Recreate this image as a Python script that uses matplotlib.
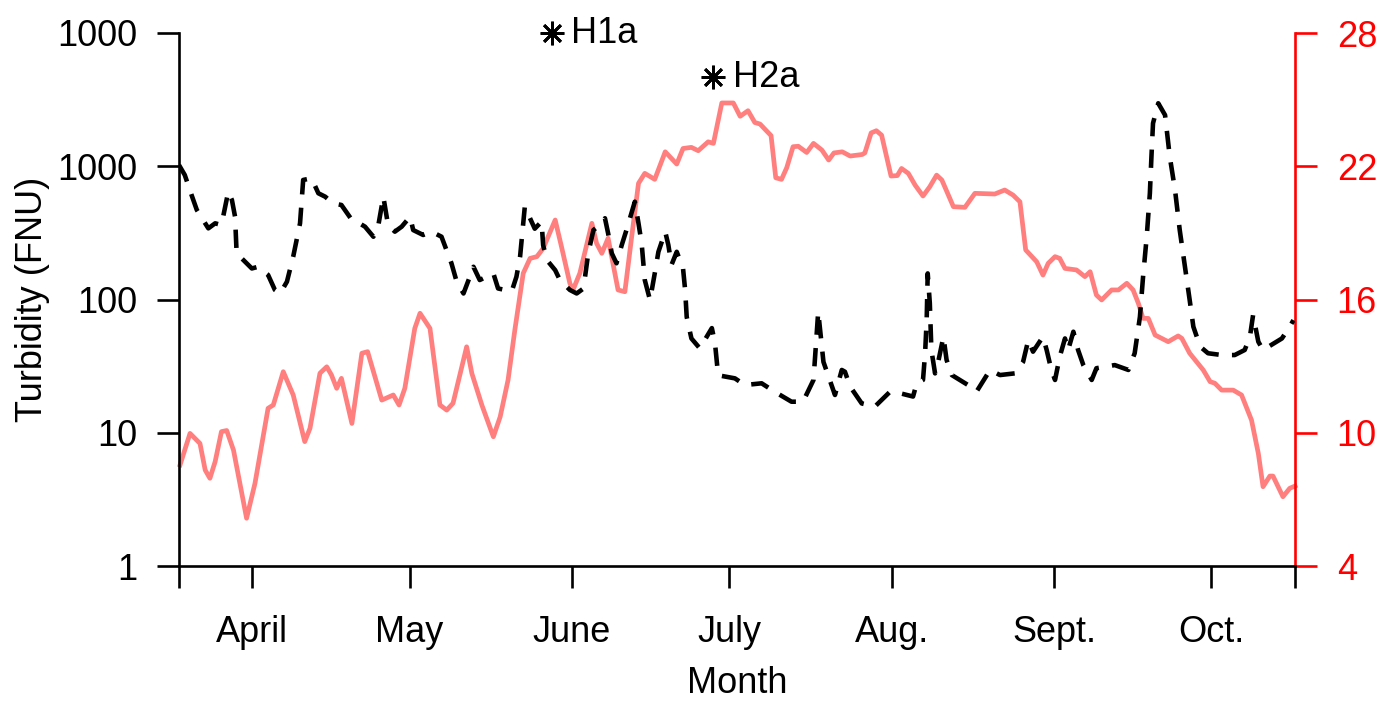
import matplotlib
matplotlib.use("Agg")
import matplotlib.pyplot as plt
from matplotlib.ticker import NullLocator, FixedLocator, FixedFormatter

plt.rcParams['font.family'] = ['Liberation Sans', 'DejaVu Sans']

# ---------------- data (x = day of year) ----------------
turb_day = [77.0, 78.1, 79.4, 80.4, 82.6, 83.9, 85.1, 86.4, 87.1, 87.7, 88.0,
            90.9, 92.1, 92.8, 94.0, 95.3, 96.3, 97.6, 98.8, 100.1, 100.7,
            102.3, 103.6, 104.9, 106.4, 108.0, 110.0, 110.9, 112.5, 114.1,
            115.0, 116.0, 116.9, 118.2, 119.5, 121.1, 121.7, 123.6, 125.2,
            127.1, 129.0, 130.0, 131.3, 132.5, 133.2, 134.4, 137.0, 137.9,
            140.5, 141.4, 142.1, 143.0, 144.9, 146.2, 146.5, 147.2, 148.8,
            149.7, 151.6, 152.9, 154.2, 155.1, 156.1, 157.3, 158.3, 158.9,
            159.6, 160.5, 161.5, 162.4, 164.0, 164.7, 165.3, 165.9, 166.9,
            167.8, 168.5, 169.8, 170.4, 171.0, 172.0, 173.2, 173.6, 173.9,
            174.8, 176.4, 178.7, 179.3, 179.9, 183.1, 185.0, 188.2, 190.7,
            193.9, 196.1, 198.1, 198.7, 199.0, 199.7, 200.0, 201.3, 202.2,
            203.5, 204.1, 205.1, 207.3, 209.8, 212.7, 214.6, 217.1, 217.8,
            219.0, 219.4, 219.7, 219.9, 220.3, 220.6, 221.3, 221.9, 222.9,
            223.5, 224.5, 227.6, 229.2, 231.8, 233.7, 236.5, 238.1, 239.1,
            240.0, 241.9, 242.6, 243.5, 244.2, 245.1, 246.1, 246.7, 247.7,
            248.6, 249.6, 251.2, 252.1, 255.6, 258.2, 259.4, 260.4, 261.0,
            261.7, 262.3, 262.6, 262.9, 263.9, 265.2, 266.1, 267.1, 268.0,
            269.0, 269.9, 270.6, 271.9, 273.4, 276.0, 278.5, 280.4, 281.4,
            282.0, 283.0, 283.9, 287.5, 289.0, 289.7]
turb_fnu = [1020, 860, 608, 470, 342, 373, 362, 644, 558, 418, 222,
            171, 176, 166, 153, 118, 111, 136, 210, 373, 789,
            813, 627, 591, 527, 512, 395, 384, 352, 296,
            352, 591, 362, 323, 352, 418, 332, 305, 323,
            296, 187, 136, 111, 148, 176, 140, 157, 121,
            115, 148, 210, 497, 340, 384, 256, 198, 166,
            140, 118, 111, 121, 222, 332, 362, 407, 314,
            222, 187, 256, 332, 542, 373, 264, 140, 99,
            157, 228, 323, 256, 182, 228, 171, 118, 74,
            51, 43, 61, 47, 27, 25.6, 22.8, 23.5, 20.3,
            17.1, 17.1, 24.9, 55.7, 81, 44, 34, 24.2, 19.2,
            29.6, 28.7, 22.2, 16.6, 15.7, 20.3, 19.8, 18.7, 23.5,
            24.9, 39.5, 70, 157, 94, 41.8, 27.9, 34, 52.6,
            35.2, 27.1, 22.8, 20.3, 29.6, 27.1, 27.9, 34, 49.7,
            40.6, 52.6, 41.8, 29.6, 24.9, 37.2, 51, 41.8, 57.3,
            41.8, 32.2, 24.9, 30.5, 32.2, 29.6, 39.5, 74, 148,
            296, 627, 1180, 2100, 2970, 2420, 1180, 664, 332,
            176, 99, 62.5, 44.3, 39.5, 38.3, 38.3, 41.8, 52.6,
            76.5, 48.2, 41.8, 51, 62.5, 70]

temp_day = [77.2, 79.1, 81.0, 82.0, 82.9, 83.9, 85.1, 86.1, 87.4, 89.9, 91.5,
            94.0, 95.0, 96.9, 98.8, 101.0, 102.0, 103.9, 105.2, 106.1, 107.1,
            108.0, 110.0, 111.9, 113.0, 115.7, 117.9, 119.0, 120.1, 122.0,
            123.0, 124.9, 126.8, 128.1, 129.3, 131.9, 132.9, 134.8, 137.0,
            138.3, 139.8, 141.1, 142.7, 144.0, 145.3, 146.5, 148.8, 150.0,
            151.6, 152.2, 153.5, 155.8, 156.7, 157.7, 158.9, 160.8, 162.1,
            163.4, 164.7, 165.9, 167.8, 169.8, 172.0, 173.2, 174.8, 176.1,
            178.0, 179.0, 180.6, 182.8, 184.1, 185.6, 186.9, 187.9, 190.0,
            190.9, 192.0, 193.0, 194.2, 195.2, 196.8, 198.1, 199.7, 201.0,
            202.0, 203.6, 205.1, 207.4, 207.9, 209.1, 210.1, 211.1, 212.9,
            214.1, 214.9, 216.2, 217.5, 219.0, 220.3, 221.6, 222.6, 224.8,
            227.0, 228.9, 232.7, 234.6, 236.2, 237.5, 238.6, 240.7, 241.9,
            242.9, 244.2, 245.1, 246.1, 248.3, 249.9, 250.9, 252.1, 253.1,
            255.0, 256.3, 257.9, 259.1, 260.1, 261.0, 262.0, 263.3, 265.8,
            267.7, 268.4, 269.9, 272.5, 273.8, 274.7, 276.0, 278.2, 279.8,
            281.7, 283.0, 283.9, 285.2, 285.8, 287.7, 289.0, 290.0]
temp_c = [8.55, 9.97, 9.52, 8.32, 7.95, 8.70, 10.05, 10.10, 9.22, 6.15, 7.72,
          11.10, 11.25, 12.75, 11.70, 9.60, 10.20, 12.68, 12.97, 12.60, 12.00,
          12.45, 10.42, 13.58, 13.65, 11.47, 11.70, 11.25, 12.00, 14.70,
          15.38, 14.70, 11.25, 11.02, 11.33, 13.87, 12.67, 11.25, 9.82,
          10.72, 12.37, 14.63, 17.18, 17.85, 17.93, 18.30, 19.58, 18.38,
          16.73, 16.43, 17.18, 19.43, 18.53, 18.08, 18.76, 16.43, 16.35,
          18.83, 21.23, 21.68, 21.41, 22.65, 22.10, 22.80, 22.85, 22.70,
          23.10, 23.03, 24.85, 24.85, 24.25, 24.50, 23.97, 23.90, 23.38,
          21.48, 21.41, 21.94, 22.88, 22.90, 22.62, 23.03, 22.73, 22.28,
          22.60, 22.65, 22.46, 22.53, 22.60, 23.50, 23.60, 23.40, 21.56,
          21.58, 21.90, 21.68, 21.15, 20.66, 21.08, 21.60, 21.38, 20.18,
          20.15, 20.78, 20.75, 20.93, 20.70, 20.40, 18.23, 17.70, 17.10,
          17.63, 17.93, 17.85, 17.40, 17.33, 17.03, 17.25, 16.20, 15.98,
          16.43, 16.43, 16.73, 16.43, 15.83, 15.15, 15.15, 14.40, 14.10,
          14.36, 14.25, 13.58, 12.82, 12.30, 12.23, 11.92, 11.92, 11.70,
          10.57, 9.07, 7.57, 8.05, 8.05, 7.12, 7.50, 7.60]

month_ticks = [77, 91, 121, 152, 182, 213, 244, 274, 290]
month_labels = ['', 'April', 'May', 'June', 'July', 'Aug.', 'Sept.', 'Oct.', '']
turb_ticks = [1, 10, 100, 1000, 10000]
turb_tick_labels = ['1', '10', '100', '1000', '1000']
temp_ticks = [4, 10, 16, 22, 28]
site_names = ['H1a', 'H2a']
site_day = [148.1, 179.0]
site_temp = [28.0, 26.0]

# ---------------- figure ----------------
FS = 26
fig = plt.figure(figsize=(13.82, 7.01), dpi=100)
ax = fig.add_axes([179 / 1382, 135 / 701, (1295 - 179) / 1382, (566 - 33) / 701])
ax2 = ax.twinx()
ax.set_zorder(ax2.get_zorder() + 1)
ax.patch.set_visible(False)

ax2.plot(temp_day, temp_c, color='#FF7F7F', lw=3.4, solid_joinstyle='round',
         clip_on=False)
ax.plot(turb_day, turb_fnu, color='black', lw=3.3, linestyle=(0, (4.0, 2.9)),
        dash_capstyle='butt')

ax.set_yscale('log')
ax.set_ylim(1, 10000)
ax.set_xlim(77, 290)
ax2.set_ylim(4, 28)

ax.yaxis.set_major_locator(FixedLocator(turb_ticks))
ax.yaxis.set_major_formatter(FixedFormatter(turb_tick_labels))
ax.yaxis.set_minor_locator(NullLocator())
ax.xaxis.set_major_locator(FixedLocator(month_ticks))
ax.xaxis.set_major_formatter(FixedFormatter(month_labels))
ax2.yaxis.set_major_locator(FixedLocator(temp_ticks))

for s in ['top', 'right']:
    ax.spines[s].set_visible(False)
for s in ['top', 'left', 'bottom']:
    ax2.spines[s].set_visible(False)
ax.spines['left'].set_linewidth(1.9)
ax.spines['bottom'].set_linewidth(1.9)
ax2.spines['right'].set_linewidth(1.9)
ax2.spines['right'].set_color('red')

ax.tick_params(axis='y', length=16, width=1.9, labelsize=FS, pad=14)
ax.tick_params(axis='x', length=16, width=1.9, labelsize=FS, pad=19)
ax2.tick_params(axis='y', length=16, width=1.9, labelsize=FS, pad=14,
                colors='red')

ax.set_xlabel('Month', fontsize=FS, labelpad=12)
ax.set_ylabel('Turbidity (FNU)', fontsize=FS, labelpad=5)

for name, d, t in zip(site_names, site_day, site_temp):
    ax2.plot([d], [t], marker=(8, 2, 0), markersize=17, mew=2.0,
             color='black', clip_on=False, zorder=10)
    ax2.annotate(name, (d, t), xytext=(14, 0), textcoords='offset points',
                 fontsize=FS, va='center', ha='left', annotation_clip=False)

fig.savefig('out.png', dpi=100)
